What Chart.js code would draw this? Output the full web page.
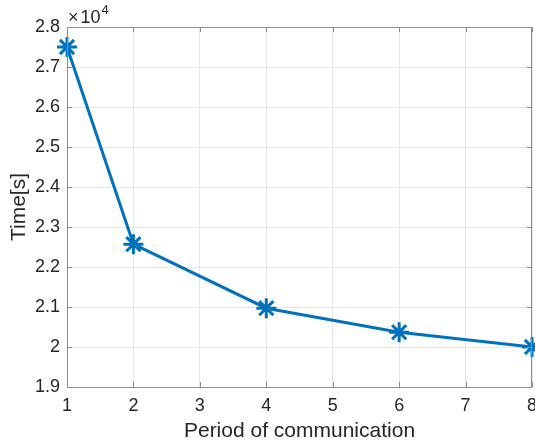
<!DOCTYPE html>
<html>
<head>
<meta charset="utf-8">
<script src="https://cdn.jsdelivr.net/npm/chart.js@4"></script>
<style>
html,body{margin:0;padding:0;background:#fff;}
#wrap{width:535px;height:445px;}
</style>
</head>
<body>
<div id="wrap"><canvas id="c" width="535" height="445"></canvas></div>
<script>
const periods = [1, 2, 4, 6, 8];
const times = [27500, 22570, 20970, 20370, 20000];
const xTicks = [1, 2, 3, 4, 5, 6, 7, 8];
const yTicks = [19000, 20000, 21000, 22000, 23000, 24000, 25000, 26000, 27000, 28000];

const FONT = "'Liberation Sans', Arial, Helvetica, sans-serif";

const boxPlugin = {
  id: 'box',
  afterDraw(chart) {
    const {ctx, chartArea: a, scales} = chart;
    ctx.save();
    ctx.strokeStyle = '#8c8c8c';
    ctx.lineWidth = 1;
    ctx.beginPath();
    xTicks.forEach(v => {
      const px = Math.round(scales.x.getPixelForValue(v)) + 0.5;
      ctx.moveTo(px, a.bottom); ctx.lineTo(px, a.bottom - 5);
      ctx.moveTo(px, a.top); ctx.lineTo(px, a.top + 5);
    });
    yTicks.forEach(v => {
      const py = Math.round(scales.y.getPixelForValue(v)) + 0.5;
      ctx.moveTo(a.left, py); ctx.lineTo(a.left + 5, py);
      ctx.moveTo(a.right, py); ctx.lineTo(a.right - 5, py);
    });
    ctx.stroke();
    ctx.strokeRect(Math.round(a.left) + 0.5, Math.round(a.top) + 0.5,
                   Math.round(a.right - a.left) - 1, Math.round(a.bottom - a.top));
    ctx.fillStyle = '#262626';
    ctx.textBaseline = 'alphabetic';
    ctx.textAlign = 'left';
    ctx.font = '18px ' + FONT;
    const x0 = a.left + 1, y0 = a.top - 4;
    ctx.fillText('\u00d7', x0, y0);
    const w1 = ctx.measureText('\u00d7').width + 2;
    ctx.fillText('10', x0 + w1, y0);
    const w2 = ctx.measureText('10').width;
    ctx.font = '13px ' + FONT;
    ctx.fillText('4', x0 + w1 + w2 + 1, y0 - 9);
    ctx.restore();
  }
};

new Chart(document.getElementById('c'), {
  type: 'line',
  data: {
    datasets: [{
      data: periods.map((p, i) => ({x: p, y: times[i]})),
      borderColor: '#0072BD',
      backgroundColor: '#0072BD',
      borderWidth: 3,
      pointStyle: 'star',
      pointRadius: 10,
      pointBorderWidth: 3,
      pointBorderColor: '#0072BD',
      tension: 0,
      clip: false
    }]
  },
  options: {
    responsive: false,
    animation: false,
    layout: {autoPadding: false, padding: {top: 27, right: 3, left: 0, bottom: 0}},
    plugins: {legend: {display: false}, tooltip: {enabled: false}},
    scales: {
      x: {
        type: 'linear', min: 1, max: 8,
        afterBuildTicks(s) { s.ticks = xTicks.map(v => ({value: v})); },
        afterFit(s) { s.height = 58; s.paddingRight = 0; s.paddingLeft = 0; },
        grid: {color: '#e6e6e6', drawTicks: false, lineWidth: 1},
        border: {display: false},
        ticks: {color: '#262626', font: {family: FONT, size: 18}, padding: 8, maxRotation: 0},
        title: {display: true, text: 'Period of communication', color: '#262626',
                font: {family: FONT, size: 21}, padding: {top: 0, bottom: 1}}
      },
      y: {
        type: 'linear', min: 19000, max: 28000,
        afterBuildTicks(s) { s.ticks = yTicks.map(v => ({value: v})); },
        afterFit(s) { s.width = 67; s.paddingTop = 0; s.paddingBottom = 0; },
        grid: {color: '#e6e6e6', drawTicks: false, lineWidth: 1},
        border: {display: false},
        ticks: {color: '#262626', font: {family: FONT, size: 18}, padding: 7,
                callback: v => String(Math.round(v / 1000) / 10)},
        title: {display: true, text: 'Time[s]', color: '#262626',
                font: {family: FONT, size: 21}, padding: {top: 7, bottom: 0}}
      }
    }
  },
  plugins: [boxPlugin]
});
</script>
</body>
</html>
